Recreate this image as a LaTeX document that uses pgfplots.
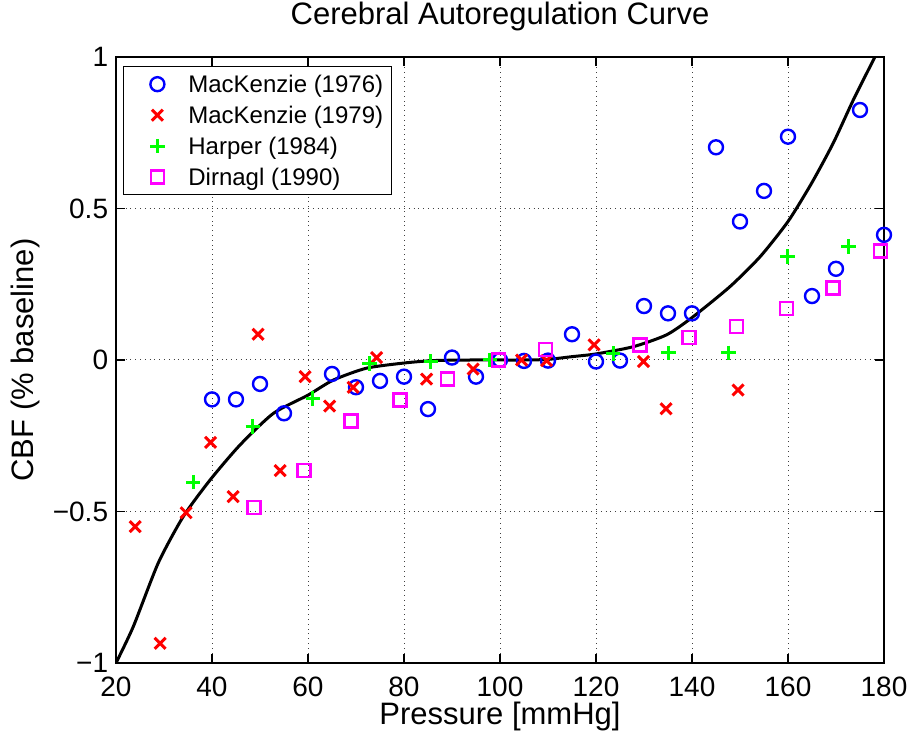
\documentclass[border=0pt]{standalone}
\usepackage{fontspec}
\setmainfont{Liberation Sans}
\usepackage{pgfplots}
\pgfplotsset{compat=1.18}
\definecolor{mblue}{RGB}{0,0,255}
\definecolor{mred}{RGB}{255,0,0}
\definecolor{mgreen}{RGB}{0,255,0}
\definecolor{mmag}{RGB}{255,0,255}
\begin{document}
\begin{tikzpicture}
\begin{axis}[
  scale only axis, width=384pt, height=303pt,
  xmin=20, xmax=180, ymin=-1, ymax=1,
  xtick={20,40,...,180}, ytick={-1,-0.5,0,0.5,1},
  yticklabels={−1,−0.5,0,0.5,1},
  /pgf/number format/assume math mode=true,
  tick align=inside, major tick length=4.5pt,
  grid=major, major grid style={dotted, black!75, line width=0.5pt},
  axis line style={line width=0.6pt},
  every tick/.style={black, line width=0.6pt},
  tick label style={font=\fontsize{14}{16}\selectfont},
  xticklabel style={anchor=base, yshift=-16.85pt, inner sep=0pt},
  yticklabel style={anchor=east, xshift=-3.75pt, inner sep=0pt},
  title={Cerebral Autoregulation Curve},
  title style={at={(axis description cs:0.5,1.0335)}, anchor=base, font=\fontsize{15.5}{18}\selectfont, inner sep=0pt},
  xlabel={Pressure [mmHg]},
  xlabel style={at={(axis description cs:0.5,-0.1023)}, anchor=base, font=\fontsize{15.5}{18}\selectfont, inner sep=0pt},
  ylabel={CBF (\% baseline)},
  ylabel style={at={(axis description cs:-0.1068,0.5)}, anchor=base, font=\fontsize{15.5}{18}\selectfont, inner sep=0pt},
  legend style={at={(axis description cs:0,1)}, anchor=north west, xshift=3.4pt, yshift=-4.5pt,
    draw=black, line width=0.6pt, font=\fontsize{12}{14}\selectfont,
    inner xsep=2.5pt, inner ysep=1.05pt, column sep=0pt,
    nodes={inner sep=1.75pt, text height=10.3pt, text depth=1.7pt}},
  legend cell align=left,
  legend image code/.code={\path (-13.75pt,0pt) (13pt,0pt); \draw[mark repeat=2,mark phase=2,#1] plot coordinates {(-1pt,0pt)(0pt,0pt)(1pt,0pt)};},
]
\addplot[only marks, mark=o, mark size=3.5pt, mblue, line width=1.2pt] coordinates {
(40,-0.13) (45,-0.13) (50,-0.079) (55,-0.176) (65,-0.046) (70,-0.09) (75,-0.069) (80,-0.055)
(85,-0.162) (90,0.008) (95,-0.055) (100,0) (105,-0.003) (110,-0.002) (115,0.085) (120,-0.005)
(125,-0.002) (130,0.178) (135,0.154) (140,0.154) (145,0.702) (150,0.457) (155,0.558) (160,0.737)
(165,0.211) (170,0.301) (175,0.825) (180,0.413)};
\addlegendentry{MacKenzie (1976)}
\addplot[only marks, mark=x, mark size=3.9pt, mred, line width=1.5pt] coordinates {
(24,-0.55) (29.2,-0.935) (34.6,-0.504) (39.7,-0.272) (44.4,-0.451) (49.6,0.085) (54.2,-0.365)
(59.4,-0.055) (64.5,-0.152) (69.4,-0.09) (74.3,0.008) (84.7,-0.063) (94.4,-0.03) (104.5,0)
(109.7,-0.002) (119.6,0.05) (129.9,-0.005) (134.6,-0.161) (149.6,-0.099)};
\addlegendentry{MacKenzie (1979)}
\addplot[only marks, mark=+, mark size=3.6pt, mgreen, line width=1.5pt] coordinates {
(36.1,-0.403) (48.5,-0.219) (61,-0.127) (72.8,-0.011) (85.6,-0.005) (97.9,0) (123.6,0.022)
(135.1,0.024) (147.6,0.024) (159.9,0.341) (172.6,0.374)};
\addlegendentry{Harper (1984)}
\addplot[only marks, mark=square, mark size=3.25pt, mmag, line width=1.3pt] coordinates {
(48.8,-0.487) (59.2,-0.365) (69,-0.201) (79.2,-0.132) (89.1,-0.063) (99.7,0) (109.5,0.035)
(129.2,0.05) (139.4,0.074) (149.3,0.11) (159.7,0.17) (169.4,0.237) (179.3,0.36)};
\addlegendentry{Dirnagl (1990)}
\addplot[black, line width=1.5pt, smooth, tension=0.4, forget plot] coordinates {
(20,-1.00) (23.6,-0.88) (28.8,-0.67) (34,-0.517) (39.6,-0.396) (45.8,-0.281) (52.8,-0.176)
(60,-0.116) (65.3,-0.066) (72.2,-0.027) (80,-0.010) (86.1,-0.002) (94,0.000) (105,0.000)
(110,0.002) (115,0.011) (120,0.020) (127.8,0.044) (134.7,0.083) (140,0.14) (147.9,0.242)
(154.2,0.341) (160,0.457) (164.9,0.583) (169.4,0.715) (173.6,0.858) (178.1,1.0) (179,1.03)};
\coordinate (bbl) at (axis description cs:-0.15104,-0.12376);
\coordinate (btr) at (axis description cs:1.04297,1.09406);
\end{axis}
\pgfresetboundingbox
\useasboundingbox (bbl) rectangle (btr);
\end{tikzpicture}
\end{document}
